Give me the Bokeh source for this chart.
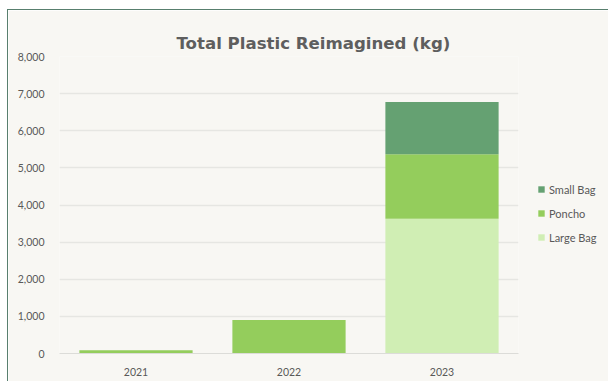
from bokeh.plotting import figure
from bokeh.models import Legend, LegendItem, NumeralTickFormatter, Title
from bokeh.embed import file_html
from bokeh.resources import INLINE

years = ["2021", "2022", "2023"]
series = ["Large Bag", "Poncho", "Small Bag"]
large_bag = [0, 0, 3630]
poncho = [90, 900, 1735]
small_bag = [0, 0, 1410]
colors = ["#d0eeb4", "#94cd5c", "#65a172"]
y_ticks = [0, 1000, 2000, 3000, 4000, 5000, 6000, 7000, 8000]

data = {"year": years, "Large Bag": large_bag, "Poncho": poncho, "Small Bag": small_bag}

BG = "#f8f7f3"
TXT = "#595959"

p = figure(x_range=years, y_range=(0, 8000), frame_width=459, frame_height=297,
           output_backend="svg", toolbar_location=None,
           min_border_left=51, min_border_right=10, min_border_top=46, min_border_bottom=28,
           background_fill_color=BG, border_fill_color=BG)
p.outline_line_color = None
p.styles = {"margin-left": "7px", "margin-top": "9px",
            "border-left": "1.5px solid #587f6e", "border-top": "1.5px solid #587f6e"}

rs = p.vbar_stack(series, x="year", width=0.74, source=data, color=colors, line_color=None)

p.title.text = ""

# invisible spacer next to the frame, then the real title above it
spacer = Title(text=".", text_font_size="6px", text_alpha=0, standoff=4)
p.add_layout(spacer, "above")
main_title = Title(text="Total Plastic Reimagined (kg)", align="left", offset=117,
                   text_font="DejaVu Sans", text_font_size="16.6px", text_font_style="bold",
                   text_color="#5e5e5e", standoff=8)
p.add_layout(main_title, "above")

p.yaxis.ticker = y_ticks
p.yaxis.formatter = NumeralTickFormatter(format="0,0")
for ax in (p.xaxis, p.yaxis):
    ax.major_tick_line_color = None
    ax.minor_tick_line_color = None
    ax.major_label_text_font = "Lato"
    ax.major_label_text_font_size = "10.5px"
    ax.major_label_text_color = TXT
p.yaxis.axis_line_color = None
p.yaxis.major_label_standoff = 9
p.xaxis.axis_line_color = "#dcdcd8"
p.xaxis.major_label_standoff = 8
p.xgrid.grid_line_color = None
p.ygrid.grid_line_color = "#e6e6e2"
p.ygrid.grid_line_width = 1.5

items = [LegendItem(label=series[i], renderers=[rs[i]]) for i in (2, 1, 0)]
legend = Legend(items=items, location="center_left", orientation="vertical",
                title=".", title_text_alpha=0, title_text_font_size="8px", title_standoff=8,
                background_fill_alpha=0, border_line_color=None,
                padding=0, margin=19, spacing=11, glyph_width=8, glyph_height=8,
                label_height=8, label_standoff=4,
                label_text_font="Lato", label_text_font_size="11px", label_text_color=TXT)
p.add_layout(legend, "right")

open("out.html", "w").write(file_html(p, INLINE))
